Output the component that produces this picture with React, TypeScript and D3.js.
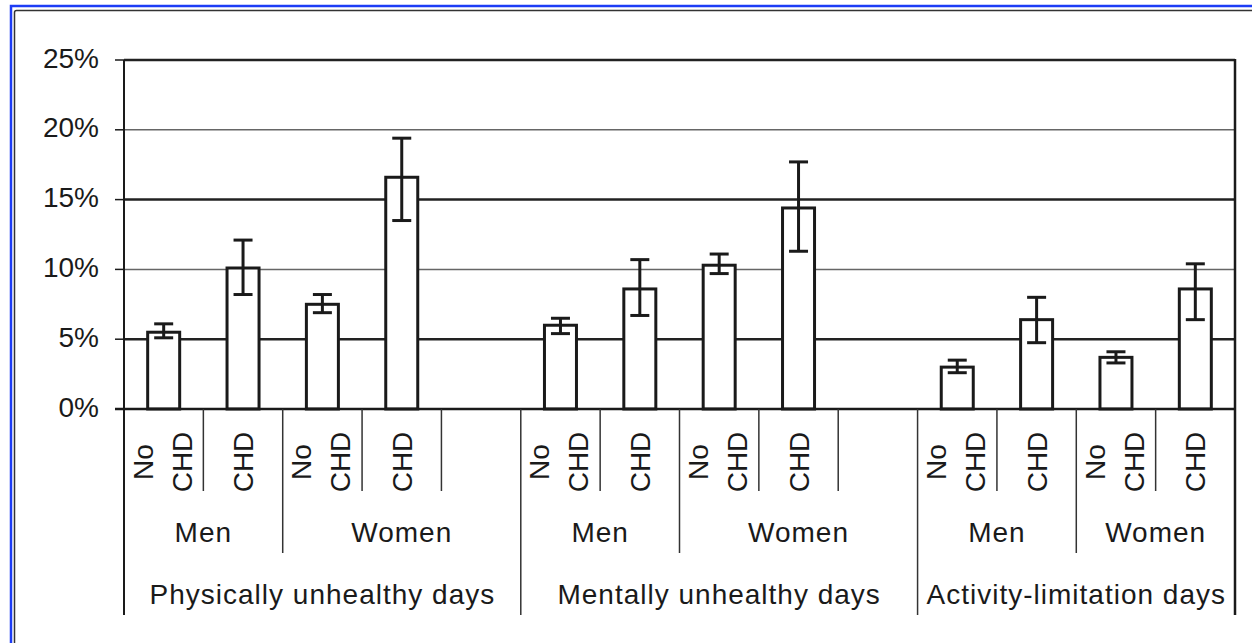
import React, { useEffect, useRef } from 'react';
import * as d3 from 'd3';

// categories
const measures = ['Physically unhealthy days', 'Mentally unhealthy days', 'Activity-limitation days'];
const sexes = ['Men', 'Women'];
const statuses = ['No CHD', 'CHD'];

// percentages, order: Men No CHD, Men CHD, Women No CHD, Women CHD
const physicalValues = [5.5, 10.1, 7.5, 16.6];
const physicalLow = [5.1, 8.2, 6.9, 13.5];
const physicalHigh = [6.1, 12.1, 8.2, 19.4];

const mentalValues = [6.0, 8.6, 10.3, 14.4];
const mentalLow = [5.4, 6.7, 9.7, 11.3];
const mentalHigh = [6.5, 10.7, 11.1, 17.7];

const activityValues = [3.0, 6.4, 3.7, 8.6];
const activityLow = [2.6, 4.75, 3.3, 6.4];
const activityHigh = [3.5, 8.0, 4.1, 10.4];

const yTicks = [0, 5, 10, 15, 20, 25];

export default function App() {
  const ref = useRef<SVGSVGElement>(null);

  useEffect(() => {
    const svg = d3.select(ref.current);
    svg.selectAll('*').remove();

    const font = '"Liberation Sans", Arial, sans-serif';
    const ink = '#1a1a1a';
    const left = 124;
    const right = 1235;
    const top = 60;
    const bottom = 409;

    const valueSets = [physicalValues, mentalValues, activityValues];
    const lowSets = [physicalLow, mentalLow, activityLow];
    const highSets = [physicalHigh, mentalHigh, activityHigh];

    // slots: every bar gets one, the first two measures get an empty slot at the end
    const slots: { key: string; m: number; s: number; st: number; i: number }[] = [];
    measures.forEach((m, mi) => {
      sexes.forEach((s, si) => {
        statuses.forEach((st, ti) => {
          slots.push({ key: `${mi}-${si}-${ti}`, m: mi, s: si, st: ti, i: si * 2 + ti });
        });
      });
      if (mi < measures.length - 1) slots.push({ key: `${mi}-gap`, m: mi, s: 1, st: -1, i: -1 });
    });

    const x = d3.scaleBand().domain(slots.map(d => d.key)).range([left, right]);
    const y = d3.scaleLinear().domain([0, 25]).range([bottom, top]);
    const bw = x.bandwidth();

    // frame
    svg.append('rect')
      .attr('x', 11).attr('y', 6).attr('width', 1300).attr('height', 700)
      .attr('fill', 'none').attr('stroke', '#1d3cf5').attr('stroke-width', 2.5);
    svg.append('rect')
      .attr('x', 14.5).attr('y', 10.5).attr('width', 1300).attr('height', 700).attr('rx', 2)
      .attr('fill', 'white').attr('stroke', '#333').attr('stroke-width', 1.5);

    // grid
    svg.append('g')
      .selectAll('line')
      .data(yTicks.filter(t => t > 0))
      .enter()
      .append('line')
        .attr('x1', left).attr('x2', right)
        .attr('y1', d => y(d)).attr('y2', d => y(d))
        .attr('stroke', d => (d % 10 === 5 ? '#222' : '#666'))
        .attr('stroke-width', d => (d % 10 === 5 ? 2.5 : 1.5));

    // y ticks and labels
    const yAxis = svg.append('g');
    yAxis.selectAll('line')
      .data(yTicks)
      .enter()
      .append('line')
        .attr('x1', left - 9).attr('x2', left)
        .attr('y1', d => y(d)).attr('y2', d => y(d))
        .attr('stroke', ink).attr('stroke-width', 1.5);
    yAxis.selectAll('text')
      .data(yTicks)
      .enter()
      .append('text')
        .attr('x', 99)
        .attr('y', d => y(d) + 7.5)
        .attr('text-anchor', 'end')
        .style('font-family', font).style('font-size', '28px').attr('fill', ink)
        .text(d => `${d}%`);

    // bars
    const bars = slots.filter(d => d.i >= 0).map(d => ({
      key: d.key,
      value: valueSets[d.m][d.i],
      low: lowSets[d.m][d.i],
      high: highSets[d.m][d.i],
    }));
    const barW = 32;
    svg.append('g')
      .selectAll('rect')
      .data(bars)
      .enter()
      .append('rect')
        .attr('x', d => (x(d.key) as number) + bw / 2 - barW / 2)
        .attr('y', d => y(d.value))
        .attr('width', barW)
        .attr('height', d => bottom - y(d.value))
        .attr('fill', 'white').attr('stroke', ink).attr('stroke-width', 3);

    // error bars
    const err = svg.append('g').attr('stroke', ink).attr('stroke-width', 3);
    bars.forEach(d => {
      const cx = (x(d.key) as number) + bw / 2;
      err.append('line').attr('x1', cx).attr('x2', cx).attr('y1', y(d.low)).attr('y2', y(d.high));
      [d.low, d.high].forEach(v => {
        err.append('line').attr('x1', cx - 9.5).attr('x2', cx + 9.5).attr('y1', y(v)).attr('y2', y(v));
      });
    });

    // axes lines
    svg.append('line')
      .attr('x1', left - 9).attr('x2', right).attr('y1', bottom).attr('y2', bottom)
      .attr('stroke', ink).attr('stroke-width', 2.5);
    svg.append('line')
      .attr('x1', left).attr('x2', left).attr('y1', top).attr('y2', 615)
      .attr('stroke', ink).attr('stroke-width', 2);
    svg.append('line')
      .attr('x1', right).attr('x2', right).attr('y1', top - 1).attr('y2', 615)
      .attr('stroke', ink).attr('stroke-width', 2.5);

    // category boundaries
    const edges = slots.map((d, k) => {
      const prev = slots[k - 1];
      let depth = 491;
      if (!prev || prev.m !== d.m) depth = 615;
      else if (prev.s !== d.s) depth = 553;
      return { x: x(d.key) as number, depth };
    }).filter(e => e.x > left);
    svg.append('g')
      .selectAll('line')
      .data(edges)
      .enter()
      .append('line')
        .attr('x1', d => d.x).attr('x2', d => d.x)
        .attr('y1', bottom).attr('y2', d => d.depth)
        .attr('stroke', '#333').attr('stroke-width', 1.5);

    // status labels (rotated)
    slots.filter(d => d.st >= 0).forEach(d => {
      const cx = (x(d.key) as number) + bw / 2;
      const g = svg.append('g').attr('transform', `translate(${cx},462) rotate(-90)`);
      const lines = statuses[d.st].split(' ');
      const offsets = lines.length === 2 ? [-11, 28] : [10];
      lines.forEach((t, li) => {
        g.append('text')
          .attr('x', 0).attr('y', offsets[li])
          .attr('text-anchor', 'middle')
          .style('font-family', font).style('font-size', '28px').attr('fill', ink)
          .text(t);
      });
    });

    // sex and measure labels
    measures.forEach((m, mi) => {
      sexes.forEach((s, si) => {
        const keys = slots.filter(d => d.m === mi && d.s === si);
        const x0 = x(keys[0].key) as number;
        const x1 = (x(keys[keys.length - 1].key) as number) + bw;
        svg.append('text')
          .attr('x', (x0 + x1) / 2).attr('y', 542)
          .attr('text-anchor', 'middle')
          .style('font-family', font).style('font-size', '28px').style('letter-spacing', '1px')
          .attr('fill', ink)
          .text(s);
      });
      const keys = slots.filter(d => d.m === mi);
      const x0 = x(keys[0].key) as number;
      const x1 = (x(keys[keys.length - 1].key) as number) + bw;
      svg.append('text')
        .attr('x', (x0 + x1) / 2).attr('y', 604)
        .attr('text-anchor', 'middle')
        .style('font-family', font).style('font-size', '28px').style('letter-spacing', '1px')
        .attr('fill', ink)
        .text(m);
    });
  }, []);

  return (
    <svg
      ref={ref}
      width={1252}
      height={643}
      style={{ position: 'absolute', left: 0, top: 0, background: 'white' }}
    ></svg>
  );
}
